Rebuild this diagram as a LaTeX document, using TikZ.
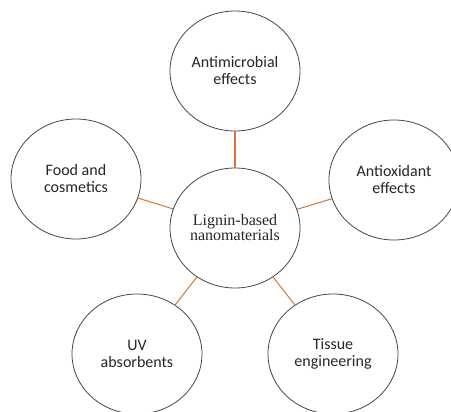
\documentclass[tikz,border=0pt]{standalone}
\usepackage{fontspec}
\setmainfont{Carlito}
\newfontfamily\serifface{Liberation Serif}
\usetikzlibrary{shapes.geometric}
\definecolor{linkorange}{RGB}{214,116,56}
\definecolor{ringgray}{RGB}{70,70,70}
\tikzset{
  topic/.style={ellipse, draw=ringgray, line width=0.8pt, minimum width=130pt, minimum height=120pt, inner sep=0pt, align=center, text=black!85,
    font=\fontsize{16pt}{17pt}\selectfont},
  hub/.style={topic, font=\serifface\fontsize{16pt}{15pt}\selectfont},
  link/.style={draw=linkorange, line width=1pt}
}
\begin{document}
\begin{tikzpicture}[x=1pt,y=-1pt]
\clip (0,0) rectangle (451,412);
\fill[white] (0,0) rectangle (451,412);
\node[hub] (c) at (235,228) {Lignin-based\\nanomaterials};
\node[topic] (t) at (235,71) {Antimicrobial\\effects};
\node[topic] (l) at (76,179) {Food and\\cosmetics};
\node[topic] (r) at (394,180) {Antioxidant\\effects};
\node[topic] (uv) at (137,354) {UV\\absorbents};
\node[topic] (ts) at (333,354) {Tissue\\engineering};
\draw[link, line width=1.4pt] (c) -- (t);
\draw[link] (c) -- (l);
\draw[link] (c) -- (r);
\draw[link] (c) -- (uv);
\draw[link] (c) -- (ts);
\end{tikzpicture}
\end{document}
